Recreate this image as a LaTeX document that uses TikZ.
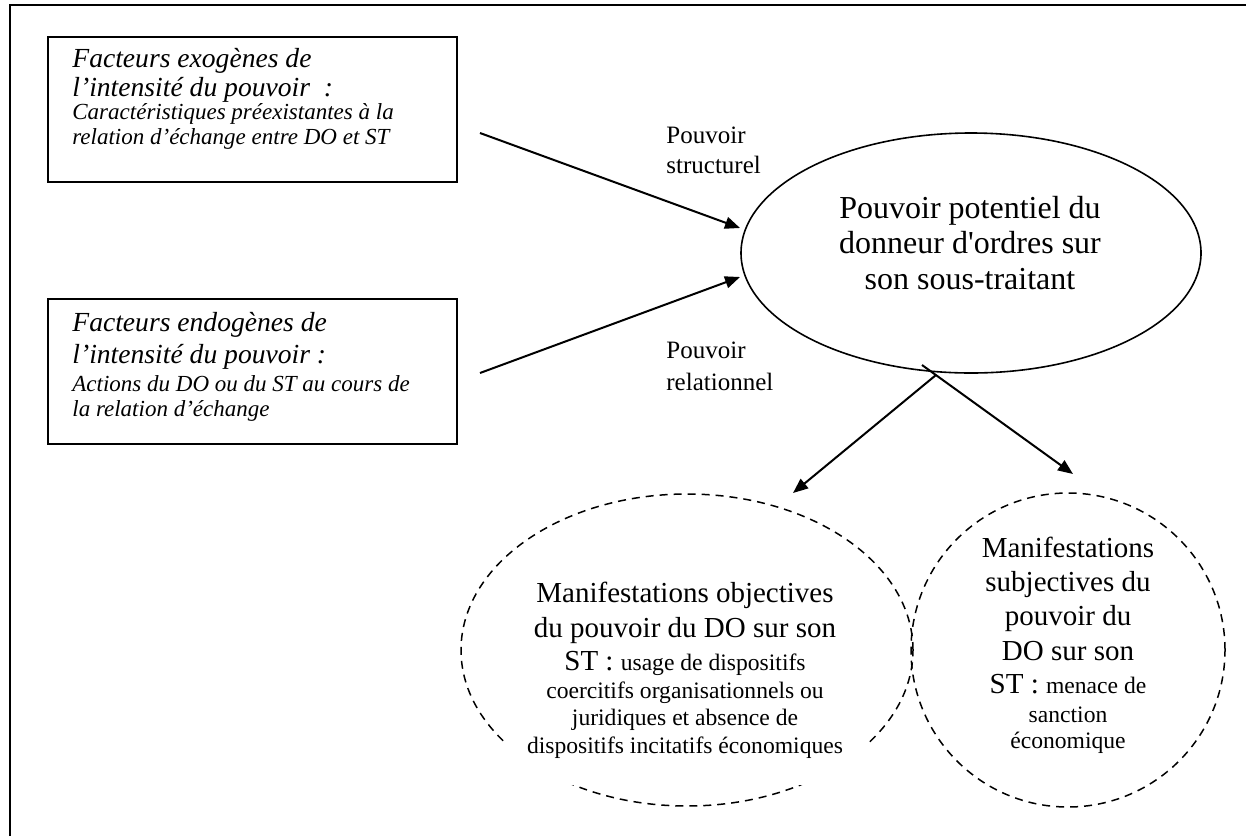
\documentclass[tikz,border=0pt]{standalone}
\usepackage{fontspec}
\setmainfont{Liberation Serif}[Ligatures=TeXOff]
\usetikzlibrary{arrows.meta,shapes.geometric}
\begin{document}
\begin{tikzpicture}[x=0.5pt,y=-0.5pt,
  framebox/.style={draw,line width=1pt,minimum width=204.5pt,minimum height=72.5pt,inner sep=0pt},
  arr/.style={line width=1pt,-{Triangle[length=7.5pt,width=6pt]}},
  dashline/.style={draw,dash pattern=on 4pt off 3pt,line width=0.75pt},
  txt/.style={inner sep=0pt,anchor=base},
  txtl/.style={inner sep=0pt,anchor=base west,align=left},
  bigit/.style={font=\fontsize{13.8}{14.5}\selectfont\itshape},
  bigit2/.style={font=\fontsize{13.8}{16}\selectfont\itshape},
  smallit/.style={font=\fontsize{11.5}{12.5}\selectfont\itshape},
  lab/.style={font=\fontsize{12.5}{15}\selectfont},
  manbig/.style={font=\fontsize{14.5}{17.1}\selectfont,align=center},
  mansmall/.style={font=\fontsize{11.8}{13.75}\selectfont,align=center}
]
\useasboundingbox (0,0) rectangle (1246,836);
% frame
\draw[line width=1.3pt] (10,836) -- (10,5) -- (1246,5);

% factor boxes
\node[framebox] (box1) at (252.5,109.5) {};
\node[txtl,bigit] (b1a) at (72,96) {Facteurs exogènes de\\l’intensité du pouvoir~ :};
\node[txtl,smallit] (b1b) at (72,144) {Caractéristiques préexistantes à la\\relation d’échange entre DO et ST};

\node[framebox] (box2) at (252.5,371.5) {};
\node[txtl,bigit2] (b2a) at (72,363) {Facteurs endogènes de\\l’intensité du pouvoir :};
\node[txtl,smallit] (b2b) at (72,416) {Actions du DO ou du ST au cours de\\la relation d’échange};

% central ellipse
\node[ellipse,draw,line width=0.8pt,minimum width=230pt,minimum height=120pt,inner sep=0pt] (pot) at (971,253) {};
\node[txt,align=center,font=\fontsize{16}{17.75}\selectfont] (pott) at (970,289)
  {Pouvoir potentiel du\\donneur d'ordres sur\\son sous-traitant};

% labels
\node[txtl,lab] (ls) at (666,173) {Pouvoir\\structurel};
\node[txtl,lab,font=\fontsize{12.5}{16}\selectfont] (lr) at (666,390) {Pouvoir\\relationnel};

% incoming arrows
\coordinate (s1) at (480,133);
\coordinate (e1) at (740,228);
\coordinate (s2) at (480,373);
\coordinate (e2) at (740,277);
\draw[arr] (s1) -- (e1);
\draw[arr] (s2) -- (e2);

% outgoing arrows
\coordinate (s3) at (936,375);
\coordinate (e3) at (793,493);
\coordinate (s4) at (922,365);
\coordinate (e4) at (1073,474);
\draw[arr] (s3) -- (e3);
\draw[arr] (s4) -- (e4);

% objective manifestations
\node[ellipse,dashline,minimum width=226pt,minimum height=156pt,inner sep=0pt] (obj) at (687,650) {};
\fill[white] (504,700) rectangle (868,785);
\node[txt,manbig] (o1) at (685,637) {Manifestations objectives\\du pouvoir du DO sur son};
\node[txt] (o2) at (685,670) {\fontsize{14.5}{17}\selectfont ST : \fontsize{11.8}{14}\selectfont usage de dispositifs};
\node[txt,mansmall] (o3) at (685,753) {coercitifs organisationnels ou\\juridiques et absence de\\dispositifs incitatifs économiques};

% subjective manifestations
\node[circle,dashline,minimum size=157pt,inner sep=0pt] (sub) at (1068,650) {};
\node[txt,manbig] (u1) at (1068,660) {Manifestations\\subjectives du\\pouvoir du\\DO sur son};
\node[txt] (u2) at (1068,693) {\fontsize{14.5}{17}\selectfont ST : \fontsize{11.8}{14}\selectfont menace de};
\node[txt,mansmall,font=\fontsize{11.8}{13}\selectfont] (u3) at (1068,748) {sanction\\économique};
\end{tikzpicture}
\end{document}
